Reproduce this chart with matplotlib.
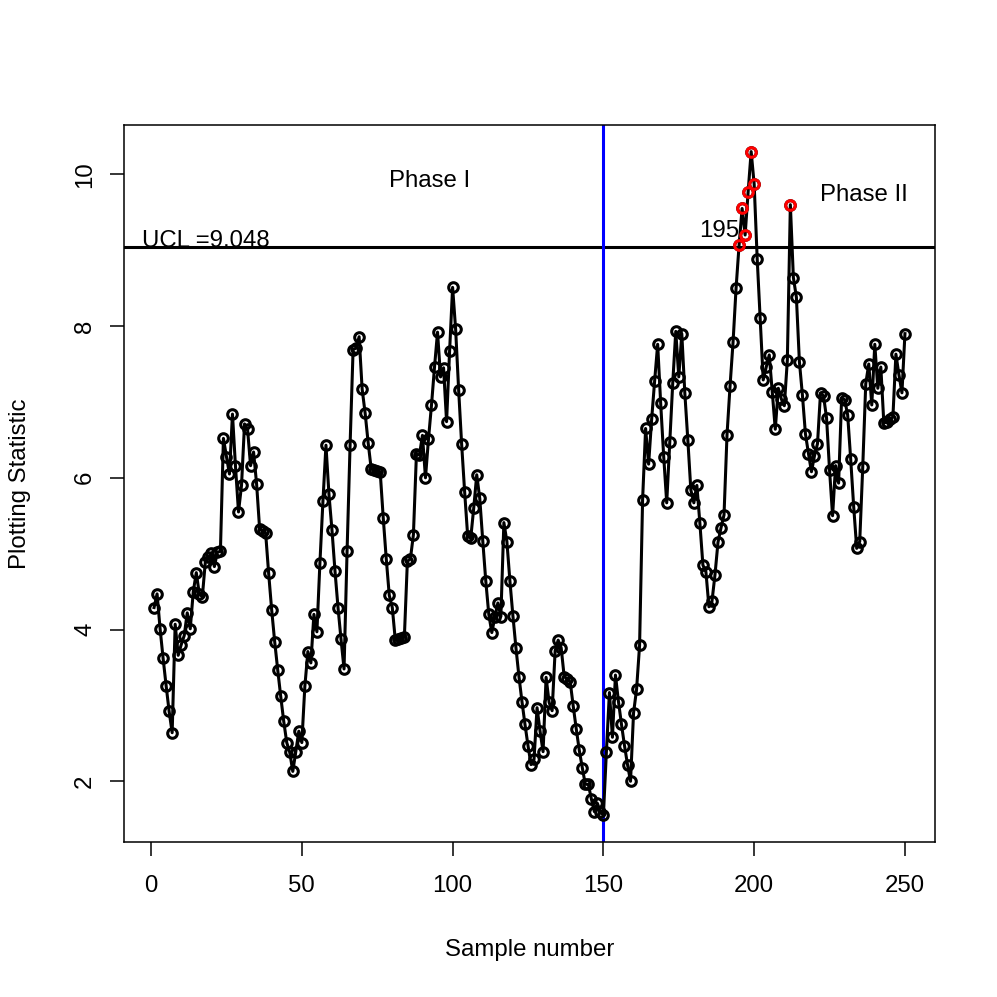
import numpy as np
import matplotlib
matplotlib.use("Agg")
from matplotlib import pyplot as plt

plt.rcParams['font.family'] = ['Liberation Sans', 'DejaVu Sans']

# plotting statistic, samples 1..150 = phase I
phase1_stat = [4.29, 4.47, 4.01, 3.62, 3.26, 2.92, 2.64, 4.07, 3.66, 3.80,
               3.92, 4.22, 4.01, 4.50, 4.75, 4.47, 4.43, 4.89, 4.95, 5.01,
               4.83, 5.02, 5.03, 6.52, 6.28, 6.05, 6.84, 6.15, 5.55, 5.90,
               6.71, 6.64, 6.16, 6.34, 5.92, 5.33, 5.30, 5.27, 4.74, 4.26,
               3.84, 3.47, 3.12, 2.79, 2.51, 2.38, 2.13, 2.39, 2.66, 2.51,
               3.25, 3.71, 3.56, 4.20, 3.97, 4.88, 5.69, 6.43, 5.78, 5.31,
               4.77, 4.29, 3.87, 3.48, 5.03, 6.43, 7.69, 7.71, 7.86, 7.17,
               6.85, 6.46, 6.12, 6.10, 6.09, 6.07, 5.47, 4.93, 4.45, 4.29,
               3.86, 3.87, 3.89, 3.90, 4.90, 4.93, 5.25, 6.31, 6.30, 6.56,
               6.00, 6.51, 6.96, 7.46, 7.92, 7.33, 7.45, 6.74, 7.67, 8.51,
               7.96, 7.16, 6.44, 5.81, 5.23, 5.20, 5.60, 6.04, 5.73, 5.17,
               4.64, 4.20, 3.96, 4.16, 4.35, 4.17, 5.41, 5.16, 4.64, 4.18,
               3.76, 3.38, 3.05, 2.75, 2.47, 2.22, 2.29, 2.97, 2.66, 2.39,
               3.37, 3.04, 2.93, 3.72, 3.86, 3.76, 3.38, 3.35, 3.31, 2.99,
               2.69, 2.41, 2.18, 1.96, 1.96, 1.77, 1.60, 1.71, 1.60, 1.55]
# samples 151..250 = phase II
phase2_stat = [2.39, 3.17, 2.58, 3.40, 3.05, 2.75, 2.47, 2.22, 2.00, 2.90,
               3.21, 3.79, 5.71, 6.65, 6.18, 6.77, 7.28, 7.76, 6.98, 6.28,
               5.67, 6.47, 7.25, 7.93, 7.33, 7.90, 7.12, 6.50, 5.84, 5.67,
               5.90, 5.40, 4.85, 4.76, 4.30, 4.37, 4.72, 5.15, 5.34, 5.51,
               6.57, 7.21, 7.79, 8.50, 9.07, 9.55, 9.20, 9.77, 10.30, 9.87,
               8.89, 8.10, 7.29, 7.46, 7.62, 7.13, 6.64, 7.18, 7.04, 6.95,
               7.55, 9.60, 8.64, 8.38, 7.53, 7.09, 6.58, 6.32, 6.08, 6.29,
               6.45, 7.12, 7.08, 6.79, 6.10, 5.50, 6.16, 5.93, 7.05, 7.03,
               6.83, 6.25, 5.62, 5.07, 5.16, 6.14, 7.24, 7.50, 6.96, 7.76,
               7.18, 7.46, 6.72, 6.74, 6.77, 6.80, 7.63, 7.36, 7.12, 7.90]
ucl = 9.048
first_ooc = 195

stat = np.array(phase1_stat + phase2_stat)
sample = np.arange(1, len(stat) + 1)
n1 = len(phase1_stat)
ooc = stat > ucl

fig = plt.figure(figsize=(9.97, 9.97), dpi=100)
ax = fig.add_axes([0.1244, 0.1555, 0.8134, 0.7191])

ax.plot(sample, stat, color='black', lw=2.2, marker='o', ms=6.9,
        mfc='none', mec='black', mew=2.2, zorder=3)
ax.plot(sample[ooc], stat[ooc], ls='none', marker='o', ms=6.9,
        mfc='none', mec='red', mew=2.2, zorder=4)

ax.axhline(ucl, color='black', lw=2.2, zorder=2)
ax.axvline(n1, color='#0000ff', lw=2.2, zorder=2)

fs = 17.3
ax.text(-3.1, ucl, 'UCL =%.3f' % ucl, fontsize=fs, ha='left', va='baseline', zorder=1)
ax.text(first_ooc - 0.1, 9.17, str(first_ooc), fontsize=fs, ha='right',
        va='baseline', zorder=1)
ax.text(92.4, 9.83, 'Phase I', fontsize=fs, ha='center', va='baseline')
ax.text(236.5, 9.65, 'Phase II', fontsize=fs, ha='center', va='baseline')

rng_x = sample.max() - sample.min()
ax.set_xlim(sample.min() - 0.04 * rng_x, sample.max() + 0.04 * rng_x)
rng_y = stat.max() - stat.min()
ax.set_ylim(stat.min() - 0.04 * rng_y, stat.max() + 0.04 * rng_y)

ax.set_xticks([0, 50, 100, 150, 200, 250])
ax.set_yticks([2, 4, 6, 8, 10])
ax.tick_params(axis='both', length=10, width=1.1, labelsize=fs)
ax.tick_params(axis='x', pad=14)
ax.tick_params(axis='y', pad=10, labelrotation=90)
for lab in ax.get_yticklabels():
    lab.set_verticalalignment('center')
for sp in ax.spines.values():
    sp.set_linewidth(1.1)

fig.text(0.531, 0.047, 'Sample number', fontsize=fs, ha='center', va='center')
fig.text(0.020, 0.515, 'Plotting Statistic', fontsize=fs, rotation=90,
         ha='center', va='center')

fig.savefig('out.png', dpi=100)
